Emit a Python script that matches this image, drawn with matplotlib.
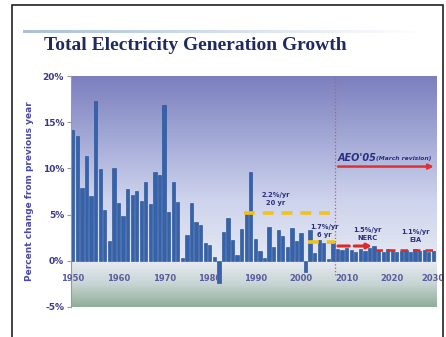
import numpy as np
import matplotlib.pyplot as plt
from matplotlib.colors import LinearSegmentedColormap
from matplotlib.patches import Rectangle

# annual growth in total generation, percent change from previous year
hist_years = list(range(1950, 2008))
hist_growth = [14.2, 13.5, 7.9, 11.3, 7.0, 17.3, 9.9, 5.5, 2.1, 10.0,
               6.3, 4.9, 7.8, 7.1, 7.6, 6.5, 8.5, 6.2, 9.6, 9.3,
               16.9, 5.3, 8.5, 6.4, 0.3, 2.8, 6.3, 4.2, 3.9, 1.9,
               1.7, 0.4, -2.4, 3.1, 4.6, 2.2, 0.6, 3.4, 5.1, 9.6,
               2.4, 1.1, 0.3, 3.7, 1.5, 3.3, 2.7, 1.5, 3.6, 2.1,
               3.0, -1.2, 3.3, 0.8, 2.2, 1.9, 0.2, 1.9]
proj_years = list(range(2008, 2030))
proj_growth = [1.3, 1.2, 1.4, 1.2, 1.0, 1.3, 1.1, 1.4, 1.6, 1.2, 1.0,
               1.3, 1.1, 1.0, 1.1, 1.2, 1.0, 1.3, 1.1, 1.2, 1.0, 1.1]

yticks = [-5, 0, 5, 10, 15, 20]
decades = [1950, 1960, 1970, 1980, 1990, 2000, 2010, 2020, 2030]

# trend rates drawn as dashed lines: (start, end, rate)
trend_20yr = (1987.5, 2007.5, 5.2)
trend_6yr = (2001.5, 2007.5, 2.0)
nerc = (2007.5, 2016.2, 1.6)
eia = (2016.2, 2029.6, 1.2)

navy = '#2b2f7e'

fig = plt.figure(figsize=(4.46, 3.37), dpi=100)
fig.patch.set_facecolor('white')

# outer frame and title rule
fig.add_artist(Rectangle((12/446, -0.05), 431/446, 1.05 - 5/337, transform=fig.transFigure,
                         fill=False, edgecolor='#222222', lw=1.2))
rule = fig.add_axes([23/446, 1 - 33/337, 400/446, 3/337])
rule.imshow(np.linspace(1, 0, 100)[None, :], aspect='auto',
            cmap=LinearSegmentedColormap.from_list('r', ['white', '#a9c0dc']))
rule.axis('off')
fig.text(44/446, 1 - 45/337, 'Total Electricity Generation Growth', family='Liberation Serif',
         weight='bold', fontsize=14, color='#1f2a5e', va='center')

ax = fig.add_axes([71/446, 1 - 307/337, 366/446, 231/337])
x0, x1 = 1949.6, 2029.8
ax.set_xlim(x0, x1)
ax.set_ylim(-5, 20)

# background: purple at the top fading to pale blue at zero, pale to grey-green below
top = LinearSegmentedColormap.from_list('t', ['#7c7fbd', '#a3a9d6', '#cdd3ec', '#e4e8f3'])
bot = LinearSegmentedColormap.from_list('b', ['#e8ecf3', '#c8d5d5', '#90ae96'])
ax.imshow(np.linspace(0, 1, 200)[:, None], extent=[x0, x1, 0, 20], aspect='auto',
          cmap=top, zorder=0)
ax.imshow(np.linspace(0, 1, 100)[:, None], extent=[x0, x1, -5, 0], aspect='auto',
          cmap=bot, zorder=0)

ax.bar(hist_years, hist_growth, width=0.72, color='#3463ad', edgecolor='#24498c',
       lw=0.4, zorder=2)
ax.bar(proj_years, proj_growth, width=0.72, color='#3463ad', edgecolor='#24498c',
       lw=0.4, zorder=2)

for s in ['top', 'right', 'bottom']:
    ax.spines[s].set_visible(False)
ax.spines['left'].set_color('#9a9a9a')
ax.spines['left'].set_linewidth(0.8)
ax.set_yticks(yticks)
ax.set_yticklabels(['%d%%' % v for v in yticks], fontsize=6.5, weight='bold', color='#3a3a8c')
ax.tick_params(axis='y', length=3, color='#9a9a9a', pad=2)
ax.set_xticks([])
for d in decades:
    ax.text(min(d, 2029.0), -1.9, str(d), ha='center', va='center', fontsize=6,
            weight='bold', color='#5a5c9c', zorder=3)
ax.set_ylabel('Percent change from previous year', fontsize=6.5, weight='bold',
              color='#4a4aa6', labelpad=6)

# forecast boundary and AEO arrow
ax.plot([2007.5, 2007.5], [-1.5, 20], color='#e0505a', ls=':', lw=0.9, zorder=3)
ax.annotate('', xy=(2029.7, 10.2), xytext=(2007.5, 10.2),
            arrowprops=dict(arrowstyle='-|>', color='#e03030', lw=1.8,
                            mutation_scale=7), zorder=4)
ax.text(2008.0, 11.1, "AEO'05", fontsize=7, weight='bold', style='italic', color=navy,
        va='center')
ax.text(2016.4, 11.1, '(March revision)', fontsize=4.3, weight='bold', style='italic',
        color=navy, va='center')

# growth-rate trend lines
for a, b, r in [trend_20yr, trend_6yr]:
    ax.plot([a, b], [r, r], color='#f2c21c', lw=2.6, dashes=(3, 2.2), zorder=4)
ax.annotate('', xy=(nerc[1], nerc[2]), xytext=(nerc[0], nerc[2]),
            arrowprops=dict(arrowstyle='-|>', color='#e02828', lw=2.2, ls='--',
                            mutation_scale=7), zorder=4)
ax.plot([eia[0], eia[1]], [eia[2], eia[2]], color='#e02828', lw=1.8, dashes=(3, 2),
        zorder=4)

lbl = dict(fontsize=4.8, weight='bold', color=navy, ha='center', va='center', zorder=5,
           linespacing=1.3)
ax.text(1994.5, 6.7, '2.2%/yr\n20 yr', **lbl)
ax.text(2005.2, 3.2, '1.7%/yr\n6 yr', **lbl)
ax.text(2014.6, 2.9, '1.5%/yr\nNERC', **lbl)
ax.text(2025.0, 2.7, '1.1%/yr\nEIA', **lbl)

fig.savefig('out.png', dpi=100)
